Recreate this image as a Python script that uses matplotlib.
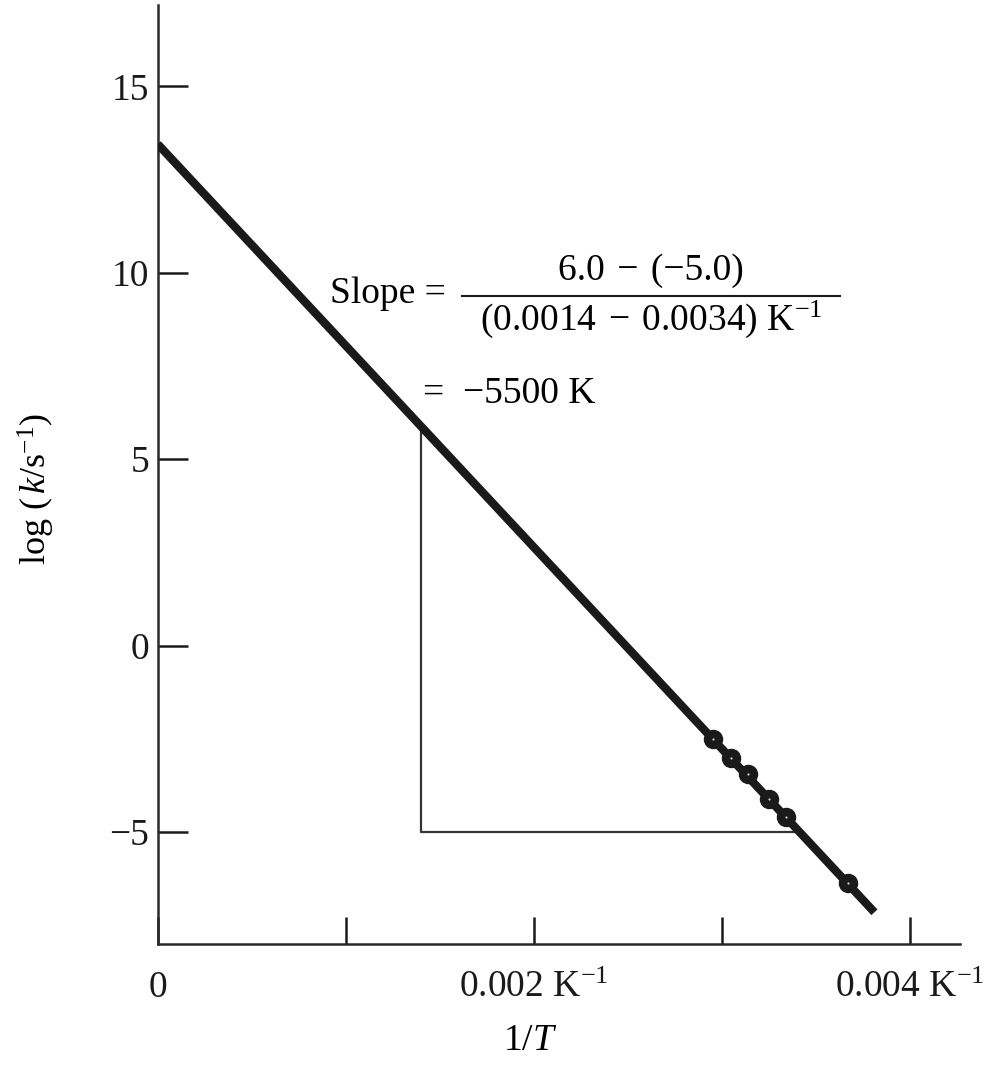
#%% Imports

import matplotlib
matplotlib.use('Agg')
import matplotlib.pyplot as plt


#%% Data

# fitted straight line (ends)
line_x = [0.0, 0.00381]
line_y = [13.45, -7.15]

# measured points
inv_T = [0.002954, 0.003048, 0.003136, 0.003251, 0.003340, 0.003668]
log_k = [-2.50, -3.01, -3.43, -4.10, -4.59, -6.36]

# slope triangle
tri_x = [0.0014, 0.0014, 0.0034]
tri_y = [5.95, -5.0, -5.0]

x_ticks = [0, 0.001, 0.002, 0.003, 0.004]
x_ticklabels = ['0', '', r'0.002 K$^{-1}$', '', r'0.004 K$^{-1}$']
y_ticks = [-5, 0, 5, 10, 15]
y_ticklabels = ['\u22125', '0', '5', '10', '15']


#%% Style

plt.rcParams['font.family'] = ['Liberation Serif', 'DejaVu Serif']
plt.rcParams['mathtext.fontset'] = 'custom'
plt.rcParams['mathtext.rm'] = 'Liberation Serif'
plt.rcParams['mathtext.it'] = 'Liberation Serif:italic'
plt.rcParams['mathtext.bf'] = 'Liberation Serif:bold'

fs = 27
ink = '#1a1a1a'
sp = '\u2004'


#%% Chart

fig = plt.figure(figsize=(9.97, 10.75), dpi=100)
ax = fig.add_axes([0.1582, 0.1219, 0.8047, 0.8734])

ax.plot(line_x, line_y, color=ink, lw=6, solid_capstyle='butt', zorder=3)
ax.plot(inv_T, log_k, 'o', color=ink, ms=13, zorder=4)
ax.plot(inv_T, log_k, 'o', color='#cccccc', ms=1.6, mew=0, zorder=5)
ax.plot(tri_x, tri_y, color='#333333', lw=1.6, zorder=2)

ax.set_xlim(0, 0.004265)
ax.set_ylim(-8, 17.18)

for s in ['top', 'right']:
    ax.spines[s].set_visible(False)
for s in ['left', 'bottom']:
    ax.spines[s].set_linewidth(1.8)
    ax.spines[s].set_color('#2a2a2a')

ax.set_xticks(x_ticks)
ax.set_xticklabels(x_ticklabels, fontsize=fs)
ax.set_yticks(y_ticks)
ax.set_yticklabels(y_ticklabels, fontsize=fs)
ax.tick_params(axis='x', direction='in', length=19.5, width=1.8, pad=19, colors=ink)
ax.tick_params(axis='y', direction='in', length=21.5, width=1.8, pad=6, colors=ink)

ax.set_ylabel(r'log $(\,k/\mathrm{s}^{-1})$', fontsize=26)
ax.yaxis.set_label_coords(-0.125, 0.485)
ax.text(0.00198, -10.6, r'$\mathrm{1}/T$', fontsize=fs, ha='center', va='center')

# slope annotation
ax.text(0.000916, 9.45, 'Slope =', fontsize=fs, ha='left', va='center')
ax.text(0.002623, 10.05, '6.0' + sp + '\u2212' + sp + '(\u22125.0)', fontsize=fs, ha='center', va='center')
ax.plot([0.001618, 0.003627], [9.38, 9.38], color=ink, lw=1.5)
ax.text(0.002623, 8.75, '(0.0014' + sp + '\u2212' + sp + '0.0034) K$^{-1}$', fontsize=fs, ha='center', va='center')
ax.text(0.00141, 6.76, '=  \u22125500 K', fontsize=fs, ha='left', va='center')

plt.savefig('out.png', dpi=100)
